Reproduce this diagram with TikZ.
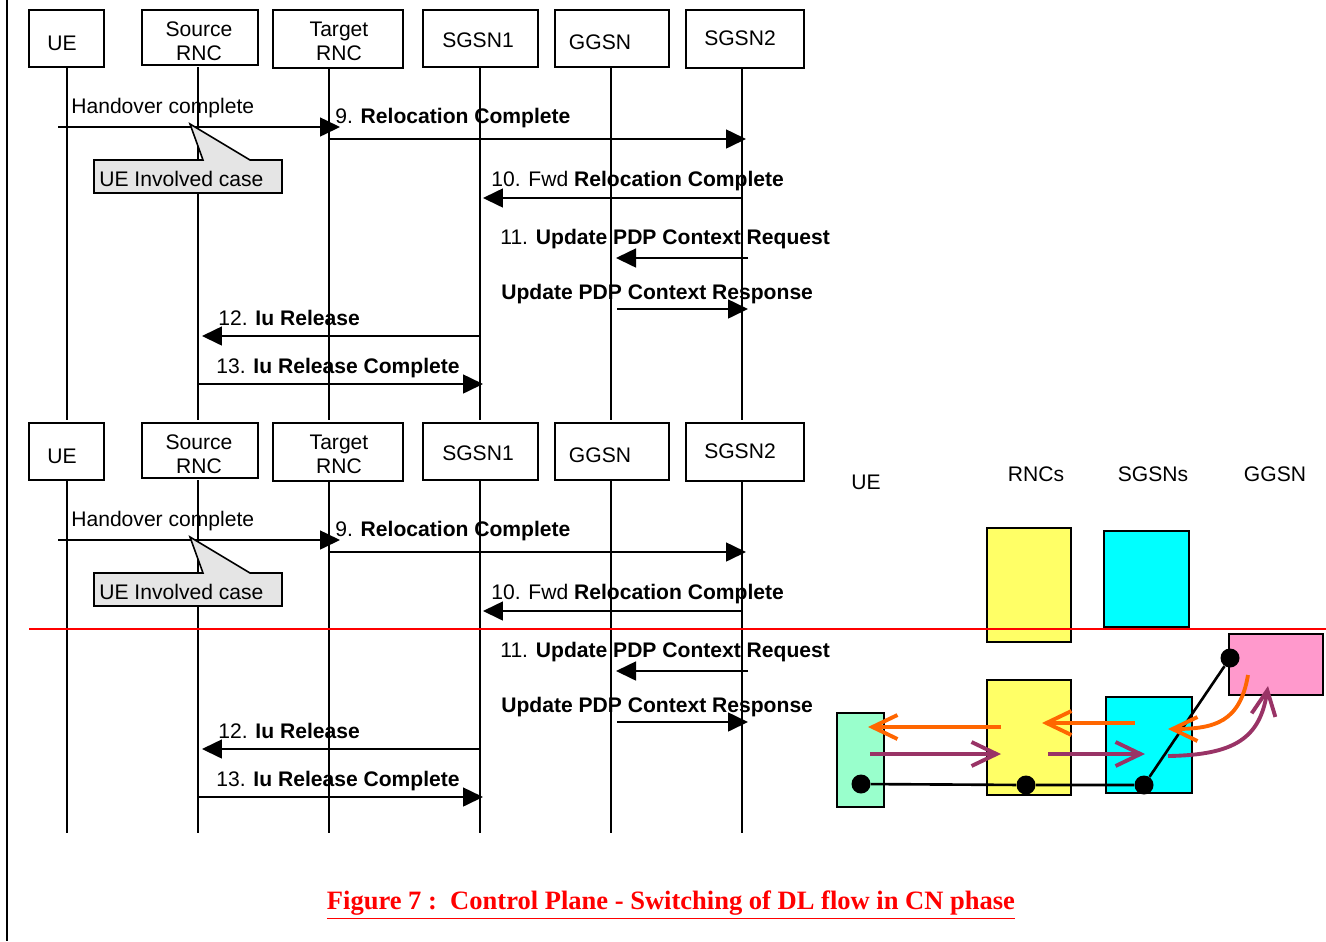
\documentclass[tikz,border=0pt]{standalone}
\usepackage{fontspec}
\setmainfont{Liberation Sans}
\newfontfamily\capfont{Liberation Serif}
\usetikzlibrary{arrows.meta,positioning,calc}
\definecolor{ueGreen}{HTML}{99FFCC}
\definecolor{rncYellow}{HTML}{FFFF66}
\definecolor{sgsnCyan}{HTML}{00FFFF}
\definecolor{ggsnPink}{HTML}{FF99CC}
\definecolor{dlOrange}{HTML}{FF6600}
\definecolor{ulPurple}{HTML}{993366}

\begin{document}
\begin{tikzpicture}[
  x=0.02cm, y=-0.02cm,
  hdr/.style={rectangle, draw, line width=1.1pt, inner sep=0pt},
  hdrtxt/.style={align=center, inner sep=0pt, font=\fontsize{12}{13.6}\selectfont},
  life/.style={line width=1.1pt},
  msg/.style={-{Triangle[length=0.4cm, width=0.38cm]}, line width=0.9pt},
  lbl/.style={anchor=base west, inner sep=0pt, font=\fontsize{12}{14}\selectfont},
  ctxbox/.style={rectangle, draw, line width=1.6pt, fill=#1, inner sep=0pt},
  ctxdot/.style={circle, fill=black, inner sep=0pt, minimum size=0.38cm},
  flow/.style={line width=2.2pt, draw=#1, -{Straight Barb[length=0.5cm, width=0.48cm]}}
]
  \useasboundingbox (0,0) rectangle (1326,941);
  \draw[line width=1.1pt] (7,0) -- (7,941);

  % two copies of the message sequence
  \foreach \dy/\n in {0/a,413/b}{
  \begin{scope}[shift={(0,\dy)}]
    \foreach \x/\k in {67/ue,198/src,329/tgt,480/sgA,611/gg,742/sgB}{
      \coordinate (\k T\n) at (\x,67);
      \coordinate (\k B\n) at (\x,420);
      \draw[life] (\k T\n) -- (\k B\n);
    }
    \node[hdr, minimum width=1.5cm, minimum height=1.14cm] (ue\n) at (66.5,38.5) {};
    \node[hdr, minimum width=2.32cm, minimum height=1.1cm] (src\n) at (200,37.5) {};
    \node[hdr, minimum width=2.6cm, minimum height=1.16cm] (tgt\n) at (338,39) {};
    \node[hdr, minimum width=2.3cm, minimum height=1.14cm] (sgA\n) at (480.5,38.5) {};
    \node[hdr, minimum width=2.28cm, minimum height=1.14cm] (gg\n) at (612,38.5) {};
    \node[hdr, minimum width=2.36cm, minimum height=1.16cm] (sgB\n) at (745,39) {};
    \node[hdrtxt] (ueTx\n) at (62,43) {UE};
    \node[hdrtxt] (srcTx\n) at (199,41) {Source\\RNC};
    \node[hdrtxt] (tgtTx\n) at (339,41) {Target\\RNC};
    \node[hdrtxt] (sgATx\n) at (478,40) {SGSN1};
    \node[hdrtxt] (ggTx\n) at (600,42) {GGSN};
    \node[hdrtxt] (sgBTx\n) at (740,38) {SGSN2};

    \draw[msg, shorten <=-0.18cm, shorten >=-0.22cm] (ueT\n |- 0,127) -- (tgtT\n |- 0,127);
    \draw[msg, shorten >=-0.08cm] (tgtT\n |- 0,139) -- (sgBT\n |- 0,139);
    \draw[msg, shorten >=0.06cm] (sgBT\n |- 0,198) -- (sgAT\n |- 0,198);
    \draw[msg, shorten <=-0.12cm, shorten >=0.1cm] (sgBT\n |- 0,258) -- (ggT\n |- 0,258);
    \draw[msg, shorten <=0.12cm, shorten >=-0.12cm] (ggT\n |- 0,309) -- (sgBT\n |- 0,309);
    \draw[msg, shorten >=0.08cm] (sgAT\n |- 0,336) -- (srcT\n |- 0,336);
    \draw[msg, shorten >=-0.06cm] (srcT\n |- 0,384) -- (sgAT\n |- 0,384);

    \draw[fill=gray!20, line width=0.9pt] (94,160) -- (203,160) -- (190,124) -- (250,160)
      -- (282,160) -- (282,193) -- (94,193) -- cycle;

    \node[lbl] (ho\n) at (71,113.5) {Handover complete};
    \node[lbl] (m9\n) at (335,123) {9. \textbf{Relocation Complete}};
    \node[lbl] (m10\n) at (491,186) {10. Fwd \textbf{Relocation Complete}};
    \node[lbl] (m11\n) at (500,244) {11. \textbf{Update PDP Context Request}};
    \node[lbl] (m11r\n) at (501,299) {\textbf{Update PDP Context Response}};
    \node[lbl] (m12\n) at (218,325) {12. \textbf{Iu Release}};
    \node[lbl] (m13\n) at (216,373) {13. \textbf{Iu Release Complete}};
    \node[lbl] (case\n) at (99,186) {UE Involved case};
  \end{scope}
  }

  % user plane view on the right
  \node[font=\fontsize{12}{14}\selectfont] (ueHd) at (866,482) {UE};
  \node[font=\fontsize{12}{14}\selectfont] (rncHd) at (1036,474) {RNCs};
  \node[font=\fontsize{12}{14}\selectfont] (sgsnHd) at (1153,474) {SGSNs};
  \node[font=\fontsize{12}{14}\selectfont] (ggsnHd) at (1275,474) {GGSN};

  \node[ctxbox=rncYellow, minimum width=1.68cm, minimum height=2.28cm] (rncUp) at (1029,585) {};
  \node[ctxbox=sgsnCyan, minimum width=1.7cm, minimum height=1.92cm] (sgsnUp) at (1146.5,579) {};
  \draw[red, line width=0.9pt] (29,629) -- (1326,629);
  \node[ctxbox=ggsnPink, minimum width=1.88cm, minimum height=1.22cm] (ggsnBx) at (1276,664.5) {};
  \node[ctxbox=rncYellow, minimum width=1.68cm, minimum height=2.3cm] (rncLo) at (1029,737.5) {};
  \node[ctxbox=sgsnCyan, minimum width=1.72cm, minimum height=1.92cm] (sgsnLo) at (1149,745) {};
  \node[ctxbox=ueGreen, minimum width=0.94cm, minimum height=1.88cm] (ueBx) at (860.5,760) {};

  \node[ctxdot] (ueDot) at (861,784) {};
  \node[ctxdot] (rncDot) at (1026,785) {};
  \node[ctxdot] (sgsnDot) at (1144,785) {};
  \node[ctxdot] (ggsnDot) at (1230,658) {};
  \draw[line width=1.5pt] (ueDot) -- (rncDot) -- (sgsnDot) -- (ggsnDot);

  \coordinate (dl1s) at (1001,727); \coordinate (dl1e) at (868,727);
  \coordinate (dl2s) at (1135,723); \coordinate (dl2e) at (1042,723);
  \coordinate (dl3s) at (1248,675); \coordinate (dl3e) at (1168,729);
  \coordinate (ul1s) at (870,754); \coordinate (ul1e) at (1001,754);
  \coordinate (ul2s) at (1048,754); \coordinate (ul2e) at (1145,754);
  \coordinate (ul3s) at (1168,756); \coordinate (ul3e) at (1268,686);
  \draw[flow=dlOrange] (dl1s) -- (dl1e);
  \draw[flow=dlOrange] (dl2s) -- (dl2e);
  \draw[flow=dlOrange] (dl3s) .. controls (1240,722) and (1215,729) .. (dl3e);
  \draw[flow=ulPurple] (ul1s) -- (ul1e);
  \draw[flow=ulPurple] (ul2s) -- (ul2e);
  \draw[flow=ulPurple] (ul3s) .. controls (1235,755) and (1260,738) .. (ul3e);

  \node[font=\capfont\bfseries\fontsize{15.1}{18}\selectfont, text=red] (caption) at (671,905)
    {\underline{Figure 7 :\ \ Control Plane - Switching of DL flow in CN phase}};
\end{tikzpicture}
\end{document}
